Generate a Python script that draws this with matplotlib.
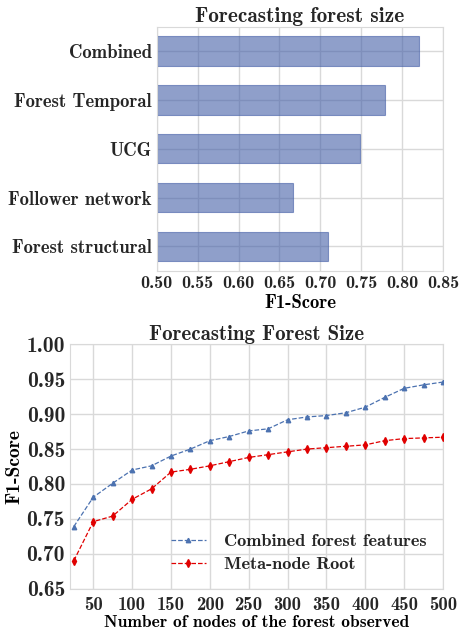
import numpy as np
import matplotlib
matplotlib.use('Agg')
from matplotlib import pyplot as plt

# data - top chart (bottom to top)
features = ['Forest structural', 'Follower network', 'UCG', 'Forest Temporal', 'Combined']
f1_scores = [0.709, 0.667, 0.749, 0.779, 0.821]

# data - bottom chart
nodes = [25, 50, 75, 100, 125, 150, 175, 200, 225, 250,
         275, 300, 325, 350, 375, 400, 425, 450, 475, 500]
combined = [0.739, 0.781, 0.801, 0.820, 0.826, 0.840, 0.850, 0.862, 0.868, 0.876,
            0.879, 0.892, 0.896, 0.898, 0.902, 0.910, 0.924, 0.937, 0.942, 0.946]
meta_root = [0.690, 0.746, 0.754, 0.778, 0.793, 0.817, 0.821, 0.826, 0.832, 0.838,
             0.842, 0.846, 0.850, 0.852, 0.854, 0.856, 0.862, 0.865, 0.866, 0.867]

plt.rcParams['font.family'] = ['cmb10', 'DejaVu Serif']
plt.rcParams['axes.unicode_minus'] = False
plt.rcParams['text.color'] = '#262626'
plt.rcParams['xtick.color'] = '#262626'
plt.rcParams['ytick.color'] = '#262626'
grid_c = '#d9d9d9'

fig = plt.figure(figsize=(4.6, 6.33), dpi=100)

# top: bar chart
ax1 = fig.add_axes([0.341, 0.572, 0.622, 0.386])
ax1.barh(range(len(features)), f1_scores, height=0.6, left=0,
         color='#445fa7', alpha=0.6, edgecolor='#445fa7', linewidth=0.8, zorder=2)
ax1.set_xlim(0.5, 0.85)
ax1.set_ylim(-0.5, 4.5)
ax1.set_xticks(np.arange(0.5, 0.851, 0.05))
ax1.set_xticklabels(['%.2f' % v for v in np.arange(0.5, 0.851, 0.05)], fontsize=13)
ax1.set_yticks(range(len(features)))
ax1.set_yticklabels(features, fontsize=13.4)
ax1.set_xlabel('F1-Score', fontsize=13.5, labelpad=2)
ax1.set_title('Forecasting forest size', fontsize=15.3, pad=3)
ax1.tick_params(axis='x', pad=4)

# bottom: line chart
ax2 = fig.add_axes([0.152, 0.070, 0.811, 0.386])
ax2.plot(nodes, combined, '--', color='#4c72b0', marker='^', markersize=3.2,
         linewidth=0.9, label='Combined forest features', zorder=3)
ax2.plot(nodes, meta_root, '--', color='#e00000', marker='d', markersize=3.6,
         linewidth=0.9, label='Meta-node Root', zorder=3)
ax2.set_xlim(20, 500)
ax2.set_ylim(0.65, 1.0)
ax2.set_xticks(range(50, 501, 50))
ax2.set_xticklabels([str(v) for v in range(50, 501, 50)], fontsize=13.5)
ax2.set_yticks(np.arange(0.65, 1.001, 0.05))
ax2.set_yticklabels(['%.2f' % v for v in np.arange(0.65, 1.001, 0.05)], fontsize=15.5)
ax2.set_xlabel('Number of nodes of the forest observed', fontsize=12.5, labelpad=1)
ax2.set_ylabel('F1-Score', fontsize=14, labelpad=2)
ax2.set_title('Forecasting Forest Size', fontsize=15, pad=3)
ax2.tick_params(axis='x', pad=5)
ax2.legend(loc='lower right', frameon=False, fontsize=13.2, handlelength=1.9,
           handletextpad=1.0, labelspacing=0.4, bbox_to_anchor=(1.0, 0.0))

for ax in (ax1, ax2):
    ax.grid(True, color=grid_c, linewidth=1, zorder=0)
    ax.set_axisbelow(True)
    for s in ax.spines.values():
        s.set_color(grid_c)
    ax.tick_params(length=0)

fig.savefig('out.png', dpi=100)
